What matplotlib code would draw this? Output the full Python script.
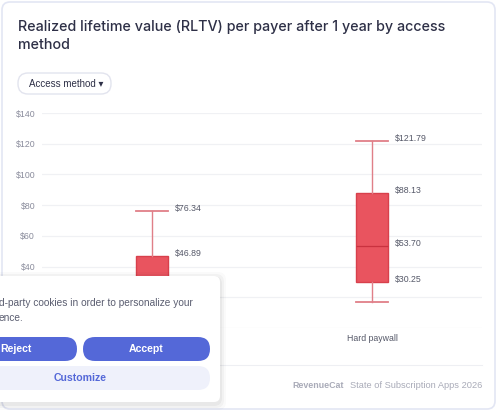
import matplotlib.pyplot as plt
from matplotlib.patches import FancyBboxPatch

# Box statistics per access method (left box partly hidden behind the cookie popup)
categories = ['Freemium', 'Hard paywall']
whisker_low = [2.0, 17.0]
q1 = [9.5, 30.25]
median = [22.0, 53.70]
q3 = [46.89, 88.13]
whisker_high = [76.34, 121.79]
# which stats carry a value label (the rest sit under the popup in the original)
labelled = [['whishi', 'q3'], ['whishi', 'q3', 'med', 'q1']]
y_ticks = [0, 20, 40, 60, 80, 100, 120, 140]

title = 'Realized lifetime value (RLTV) per payer after 1 year by access\nmethod'

box_face = '#e9545f'
box_edge = '#d8404c'
whisk_col = '#e07f88'
text_dark = '#2e3047'
text_grey = '#8a8c9c'
sans = ['Liberation Sans', 'DejaVu Sans']

W, H = 500, 413
fig = plt.figure(figsize=(W / 100, H / 100), dpi=100)
fig.patch.set_facecolor('white')

# background layer in pixel coordinates
bg = fig.add_axes([0, 0, 1, 1], zorder=0)
bg.set_xlim(0, W)
bg.set_ylim(H, 0)
bg.axis('off')
bg.add_patch(FancyBboxPatch((2, 2), W - 7, H - 6, boxstyle='round,pad=0,rounding_size=8',
                            fc='white', ec='#e3e6f4', lw=1.2))
bg.text(18, 36, title, fontsize=10.3, family='Inter', weight='medium', color=text_dark,
        va='center', ha='left', linespacing=1.3)
bg.add_patch(FancyBboxPatch((18, 73), 93, 21, boxstyle='round,pad=0,rounding_size=10',
                            fc='white', ec='#e2e4ee', lw=1))
bg.text(29, 84, 'Access method \u25be', fontsize=7, family=sans,
        color=text_dark, va='center', ha='left')
bg.plot([18, 482], [365, 365], color='#eeeff3', lw=0.8)
bg.text(344, 385, 'RevenueCat', fontsize=6.4, family=sans, weight='bold',
        color='#a9abb8', va='center', ha='right')
bg.text(482, 385, 'State of Subscription Apps 2026', fontsize=6.7, family=sans,
        color='#a9abb8', va='center', ha='right')

# chart
ax = fig.add_axes([0.084, (H - 328) / H, 0.88, 215 / H], zorder=1)
ax.patch.set_alpha(0)
stats = []
for i, c in enumerate(categories):
    stats.append(dict(label=c, whislo=whisker_low[i], q1=q1[i], med=median[i],
                      q3=q3[i], whishi=whisker_high[i], fliers=[]))
ax.bxp(stats, positions=range(len(categories)), widths=0.142, patch_artist=True,
       showfliers=False,
       boxprops=dict(facecolor=box_face, edgecolor=box_edge, lw=1),
       medianprops=dict(color='#c9323f', lw=0.9),
       whiskerprops=dict(color=whisk_col, lw=1),
       capprops=dict(color=whisk_col, lw=1.3), capwidths=0.142)
for i, st in enumerate(stats):
    for key in labelled[i]:
        v = st[key]
        ax.annotate(f'${v:.2f}', (i + 0.071, v), xytext=(5, 1.5), textcoords='offset points',
                    fontsize=6.3, family=sans, color='#555868', va='center')
ax.set_xlim(-0.5, 1.5)
ax.set_ylim(0, 140)
ax.set_yticks(y_ticks)
ax.set_yticklabels([f'${t}' for t in y_ticks])
ax.grid(axis='y', color='#f0f1f4', lw=0.9)
ax.set_axisbelow(True)
for s in ax.spines.values():
    s.set_visible(False)
ax.tick_params(length=0, labelsize=6.3, labelcolor=text_grey, pad=5)
ax.tick_params(axis='x', labelcolor='#555868', pad=4)
for lab in ax.get_xticklabels() + ax.get_yticklabels():
    lab.set_family(sans)
# labels that lie under the popup
ax.get_xticklabels()[0].set_visible(False)
for lab in ax.get_yticklabels()[:2]:
    lab.set_visible(False)

# cookie popup overlay
ov = fig.add_axes([0, 0, 1, 1], zorder=5)
ov.set_xlim(0, W)
ov.set_ylim(H, 0)
ov.axis('off')
for k, a in [(6, 0.02), (4, 0.03), (2, 0.04)]:
    ov.add_patch(FancyBboxPatch((-20 - k, 276 - k + 2), 240 + 2 * k, 126 + 2 * k,
                                boxstyle='round,pad=0,rounding_size=8', fc='black', ec='none', alpha=a))
ov.add_patch(FancyBboxPatch((-20, 276), 240, 126, boxstyle='round,pad=0,rounding_size=6',
                            fc='white', ec='none'))
ov.text(-1, 303, 'd-party cookies in order to personalize your', fontsize=7.3,
        family=sans, color='#5a5d70', va='center', ha='left')
ov.text(-1, 318, 'ence.', fontsize=7.3, family=sans, color='#5a5d70',
        va='center', ha='left')
blue = '#5468d8'
ov.add_patch(FancyBboxPatch((-40, 337), 117, 24, boxstyle='round,pad=0,rounding_size=12',
                            fc=blue, ec='none'))
ov.add_patch(FancyBboxPatch((83, 337), 127, 24, boxstyle='round,pad=0,rounding_size=12',
                            fc=blue, ec='none'))
ov.add_patch(FancyBboxPatch((-40, 366), 250, 24, boxstyle='round,pad=0,rounding_size=12',
                            fc='#eff1fb', ec='none'))
ov.text(0, 349, 'Reject', fontsize=7.6, family=sans, weight='bold',
        color='white', va='center', ha='left')
ov.text(146, 349, 'Accept', fontsize=7.6, family=sans, weight='bold',
        color='white', va='center', ha='center')
ov.text(80, 378, 'Customize', fontsize=7.6, family=sans, weight='bold',
        color=blue, va='center', ha='center')

fig.savefig('out.png', dpi=100)
